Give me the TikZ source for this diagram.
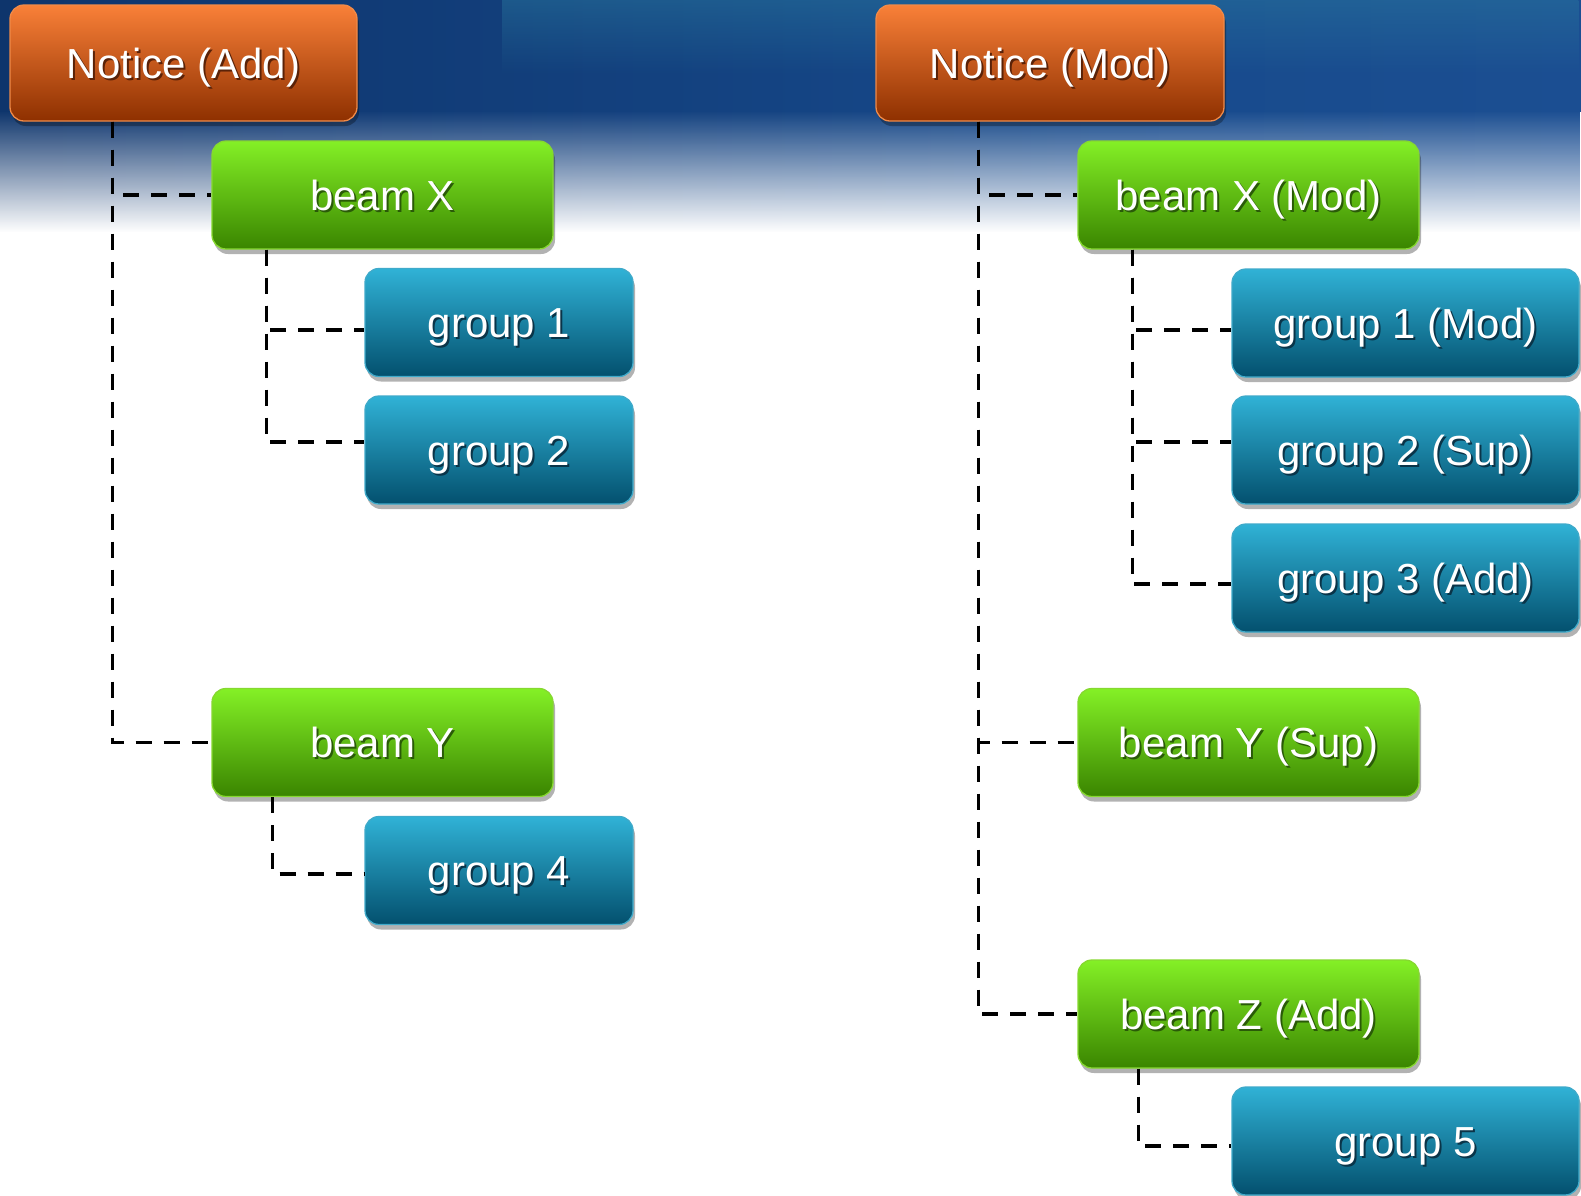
\documentclass[tikz,border=0pt]{standalone}
\usepackage{fontspec}
\setmainfont{Liberation Sans}
\usetikzlibrary{shadows,fadings,calc}
\definecolor{bg0}{HTML}{0B2856}
\definecolor{bg1}{HTML}{0F3770}
\definecolor{bg2}{HTML}{174A8C}
\definecolor{bg3}{HTML}{23569C}
\definecolor{bgTeal}{HTML}{2A7AA0}
\definecolor{ornT}{HTML}{F98038}
\definecolor{ornD}{HTML}{8E3000}
\definecolor{ornB}{HTML}{F08A48}
\definecolor{ornS}{HTML}{5A2208}
\definecolor{grnT}{HTML}{84F026}
\definecolor{grnD}{HTML}{3A8500}
\definecolor{grnB}{HTML}{86D830}
\definecolor{grnS}{HTML}{2A5A08}
\definecolor{bluT}{HTML}{30B2D6}
\definecolor{bluD}{HTML}{03506E}
\definecolor{bluB}{HTML}{3FAACA}
\definecolor{bluS}{HTML}{0A3448}
\pgfdeclarehorizontalshading{bgsh}{100bp}{color(0bp)=(bg0); color(30bp)=(bg1); color(60bp)=(bg2); color(100bp)=(bg3)}
\tikzfading[name=fadedown, top color=transparent!0, bottom color=transparent!100]
\newcommand\shtxt[2]{\makebox[0pt][l]{\kern2pt\raisebox{-2pt}{\textcolor{#1}{#2}}}\textcolor{white}{#2}}
\tikzset{
  box/.style={rounded corners=14pt, line width=1.3pt, inner sep=0pt, align=center,
    font=\fontsize{42}{50}\selectfont, text height=30pt, text depth=0pt,
    drop shadow={shadow xshift=2pt, shadow yshift=-5pt, opacity=0.3, fill=black}},
  orangebox/.style={box, draw=ornB, top color=ornT, bottom color=ornD, minimum width=347pt, minimum height=116pt},
  greenbox/.style={box, draw=grnB, top color=grnT, bottom color=grnD, minimum width=341pt, minimum height=108pt},
  bluebox/.style={box, draw=bluB, top color=bluT, bottom color=bluD, minimum width=268pt, minimum height=108pt},
  widebluebox/.style={bluebox, minimum width=347pt},
  conn/.style={black, line width=3.6pt, dash pattern=on 16pt off 12pt}
}
\begin{document}
\begin{tikzpicture}[x=1pt, y=-1pt]
\useasboundingbox (0,0) rectangle (1581,1195);
\clip (0,0) rectangle (1581,1195);
\fill[white] (0,0) rectangle (1581,1195);
\shade[shading=bgsh] (0,0) rectangle (1581,111);
\shade[shading=bgsh, path fading=fadedown] (0,110.5) rectangle (1581,232);
\shade[top color=bgTeal, bottom color=bgTeal, path fading=fadedown, opacity=0.45] (503,0) rectangle (1581,75);

% left tree
\node[orangebox] (NA) at (183.5,63) {\shtxt{ornS}{Notice (Add)}};
\node[greenbox] (bX) at (382.5,195) {\shtxt{grnS}{beam X}};
\node[bluebox] (g1) at (499,322.5) {\shtxt{bluS}{group 1}};
\node[bluebox] (g2) at (499,450) {\shtxt{bluS}{group 2}};
\node[greenbox] (bY) at (382.5,742.5) {\shtxt{grnS}{beam Y}};
\node[bluebox] (g4) at (499,870.5) {\shtxt{bluS}{group 4}};

% right tree
\node[orangebox, minimum width=348pt] (NM) at (1050,63) {\shtxt{ornS}{Notice (Mod)}};
\node[greenbox] (bXM) at (1248.5,195) {\shtxt{grnS}{beam X (Mod)}};
\node[widebluebox] (g1M) at (1405.5,323) {\shtxt{bluS}{group 1 (Mod)}};
\node[widebluebox] (g2M) at (1405.5,450) {\shtxt{bluS}{group 2 (Sup)}};
\node[widebluebox] (g3M) at (1405.5,578) {\shtxt{bluS}{group 3 (Add)}};
\node[greenbox] (bYM) at (1248.5,742.5) {\shtxt{grnS}{beam Y (Sup)}};
\node[greenbox] (bZ) at (1248.5,1014) {\shtxt{grnS}{beam Z (Add)}};
\node[widebluebox] (g5) at (1405.5,1141) {\shtxt{bluS}{group 5}};

% connectors left
\draw[conn] ($(NA.south west)+(103,0)$) |- (bX.west);
\draw[conn] ($(NA.south west)+(103,0)$) |- (bY.west);
\draw[conn] ($(bX.south west)+(55,0)$) |- ([yshift=-7.5pt]g1.west);
\draw[conn] ($(bX.south west)+(55,0)$) |- ([yshift=8pt]g2.west);
\draw[conn] ($(bY.south west)+(61,0)$) |- ([yshift=-3.5pt]g4.west);

% connectors right
\draw[conn] ($(NM.south west)+(103,0)$) |- (bXM.west);
\draw[conn] ($(NM.south west)+(103,0)$) |- (bYM.west);
\draw[conn] ($(NM.south west)+(103,0)$) |- (bZ.west);
\draw[conn] ($(bXM.south west)+(55,0)$) |- ([yshift=-7pt]g1M.west);
\draw[conn] ($(bXM.south west)+(55,0)$) |- ([yshift=8pt]g2M.west);
\draw[conn] ($(bXM.south west)+(55,0)$) |- ([yshift=-6pt]g3M.west);
\draw[conn] ($(bZ.south west)+(61,0)$) |- ([yshift=-5pt]g5.west);
\end{tikzpicture}
\end{document}
